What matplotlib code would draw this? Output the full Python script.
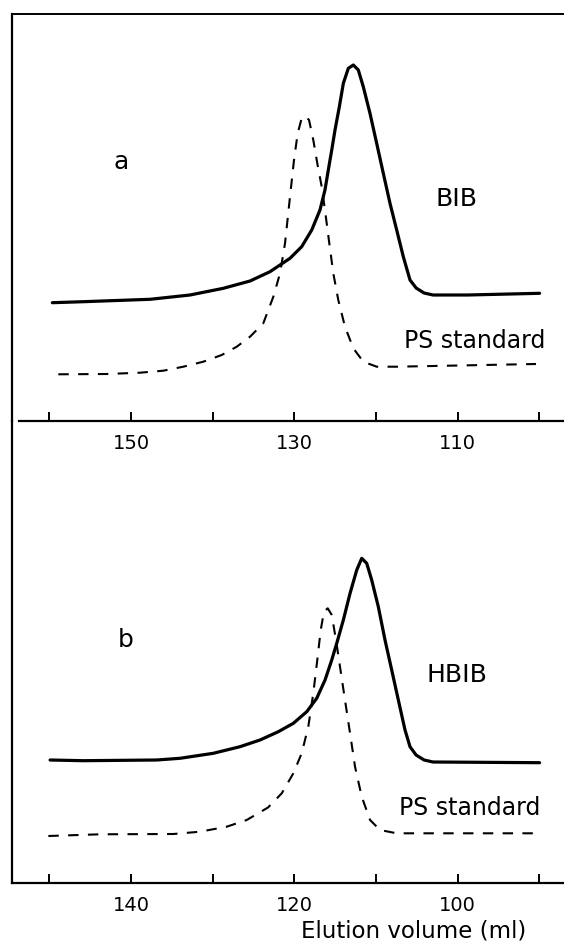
import matplotlib
matplotlib.use("Agg")
import matplotlib.pyplot as plt

# ---------------- data (elution volume in ml, detector signal in arbitrary units) -------------
# Panel a: BIB
a_bib_ml = [159.63, 155.84, 147.67, 142.78, 138.70, 135.43, 132.99, 130.54, 129.11, 127.88,
            126.87, 126.26, 125.85, 125.43, 125.03, 124.50, 124.01, 123.40, 122.79, 122.18,
            121.57, 120.75, 119.93, 119.12, 118.30, 117.48, 116.67, 115.85, 115.10, 114.13,
            113.03, 108.80, 99.99]
a_bib_sig = [118.3, 119.3, 121.7, 126.0, 132.7, 140.0, 149.3, 162.7, 174.3, 191.0,
             211.0, 231.0, 251.0, 271.0, 291.0, 314.3, 337.7, 352.7, 356.0, 351.0,
             334.3, 307.7, 277.7, 247.7, 217.7, 191.0, 164.3, 141.0, 133.0, 128.0,
             126.0, 126.0, 127.7]

# Panel a: PS standard
a_ps_ml = [158.90, 152.97, 148.90, 146.05, 143.60, 141.15, 138.90, 137.06, 135.43, 133.81,
           132.58, 131.76, 131.15, 130.54, 130.05, 129.60, 129.11, 128.70, 128.21, 127.69,
           127.20, 126.66, 126.26, 125.73, 125.24, 124.63, 123.81, 122.79, 121.57, 119.93,
           117.48, 100.43]
a_ps_sig = [46.7, 47.0, 48.3, 50.3, 54.3, 59.3, 66.0, 74.3, 84.3, 97.7,
            124.3, 147.7, 177.7, 224.3, 261.0, 287.7, 302.7, 305.0, 301.0, 281.0,
            257.7, 234.3, 211.0, 177.7, 147.7, 121.0, 94.3, 72.7, 59.3, 54.3,
            54.3, 57.0]

# Panel b: HBIB
b_hbib_ml = [149.91, 145.84, 136.85, 134.00, 129.93, 126.66, 124.21, 121.97, 120.13, 118.49,
             117.27, 116.25, 115.43, 114.82, 114.01, 113.19, 112.37, 111.76, 111.15, 110.54,
             109.73, 108.91, 108.09, 107.28, 106.46, 105.85, 105.11, 104.13, 103.03, 89.99]
b_hbib_sig = [123.0, 122.3, 123.0, 124.7, 129.7, 136.3, 143.0, 151.3, 159.7, 171.3,
              184.7, 203.0, 223.0, 239.7, 263.0, 289.7, 313.0, 324.7, 319.7, 303.0,
              276.3, 243.0, 213.0, 183.0, 153.0, 136.3, 128.0, 123.0, 121.0, 120.3]

# Panel b: PS standard
b_ps_ml = [150.12, 143.79, 134.82, 131.55, 128.29, 125.84, 123.23, 121.55, 120.13, 119.11,
           118.30, 117.69, 117.20, 116.78, 116.38, 115.92, 115.43, 114.91, 114.42, 113.81,
           113.19, 112.58, 111.76, 110.74, 109.52, 107.48, 90.43]
b_ps_sig = [47.0, 48.7, 49.0, 51.3, 56.3, 63.0, 75.5, 89.7, 109.7, 129.7,
            156.3, 189.7, 223.0, 253.0, 271.3, 274.7, 268.0, 243.0, 216.3, 183.0,
            149.7, 116.3, 86.3, 63.0, 53.0, 49.7, 49.7]

a_ticks = [160, 150, 140, 130, 120, 110, 100]
a_ticklabels = ["", "150", "", "130", "", "110", ""]
b_ticks = [150, 140, 130, 120, 110, 100, 90]
b_ticklabels = ["", "140", "", "120", "", "100", ""]

xlabel = "Elution volume (ml)"

# ---------------- figure ----------------
W, H = 564, 947
fig = plt.figure(figsize=(W / 100, H / 100), dpi=100)
plt.rcParams['font.family'] = ['DejaVu Sans']

def fx(px):
    return px / W

def fy(py):
    return 1 - py / H

left = fx(12)
axA = fig.add_axes([left, fy(421), 1 - left, fy(14) - fy(421)])
axB = fig.add_axes([left, fy(883), 1 - left, fy(421) - fy(883)])

solid_kw = dict(color="black", lw=2.3, solid_joinstyle="round", solid_capstyle="round")
dash_kw = dict(color="black", lw=1.5, dashes=(5, 4.5))

axA.plot(a_bib_ml, a_bib_sig, **solid_kw)
axA.plot(a_ps_ml, a_ps_sig, **dash_kw)
axB.plot(b_hbib_ml, b_hbib_sig, **solid_kw)
axB.plot(b_ps_ml, b_ps_sig, **dash_kw)

axA.set_xlim(164.57, 97.0)
axA.set_ylim(0, 407)
axB.set_xlim(154.57, 87.0)
axB.set_ylim(0, 462)

for ax, ticks, labels in [(axA, a_ticks, a_ticklabels), (axB, b_ticks, b_ticklabels)]:
    ax.set_xticks(ticks)
    ax.set_xticklabels(labels)
    ax.set_yticks([])
    ax.tick_params(axis="x", direction="in", length=6.5, width=1.4, pad=9,
                   labelsize=14, colors="black")
    ax.spines["right"].set_visible(False)
    ax.spines["left"].set_linewidth(1.6)
    ax.spines["bottom"].set_linewidth(1.6)
    ax.patch.set_alpha(0)

axA.spines["top"].set_linewidth(1.4)
axA.spines["bottom"].set_bounds(163.7, 97.0)
axB.spines["top"].set_visible(False)

# annotations
axA.text(151.2, 259, "a", fontsize=18, ha="center", va="center")
axA.text(110.2, 222, "BIB", fontsize=18, ha="center", va="center")
axA.text(99.3, 80, "PS standard", fontsize=17, ha="right", va="center")

axB.text(140.6, 243, "b", fontsize=18, ha="center", va="center")
axB.text(100.1, 208, "HBIB", fontsize=18, ha="center", va="center")
axB.text(89.9, 75, "PS standard", fontsize=17, ha="right", va="center")

axB.set_xlabel(xlabel, fontsize=16.5)
axB.xaxis.set_label_coords((414 - 12) / (W - 12), -0.080)

fig.savefig("out.png", dpi=100)
